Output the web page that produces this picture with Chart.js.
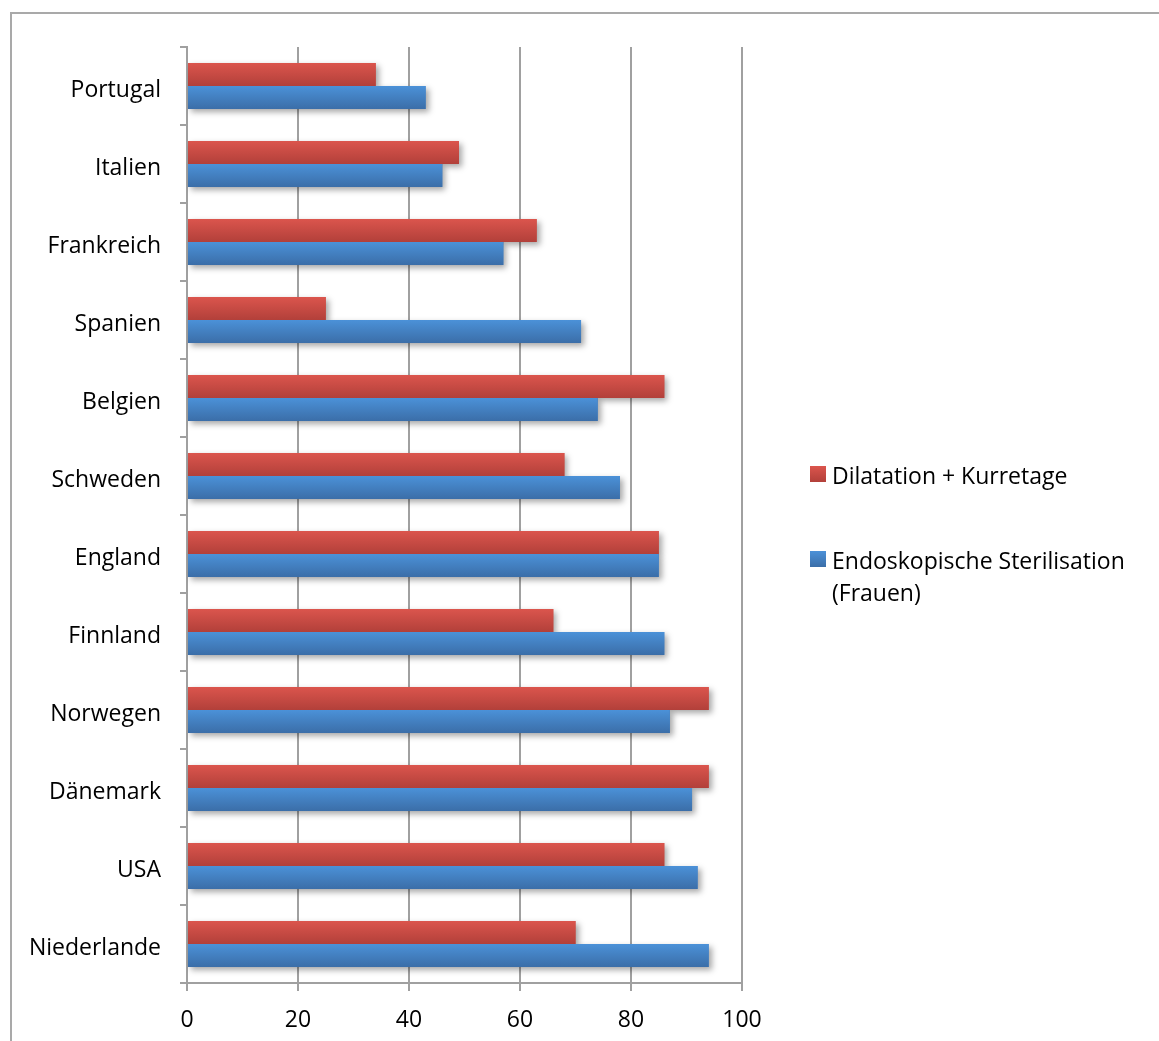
<!DOCTYPE html>
<html>
<head>
<meta charset="utf-8">
<script src="https://cdn.jsdelivr.net/npm/chart.js@4"></script>
<style>
  html, body { margin: 0; padding: 0; background: #fff; }
  body { width: 1159px; height: 1041px; position: relative; overflow: hidden; font-family: "Open Sans", sans-serif; }
  #frame { position: absolute; left: 10px; top: 12px; width: 1200px; height: 1100px; border: 2px solid #a9a9a9; box-sizing: border-box; }
  #wrap { position: absolute; left: 0; top: 0; width: 1159px; height: 1041px; }
  #legend { position: absolute; left: 810px; top: 459px; font-size: 23px; color: #000; line-height: 32px; }
  .item { position: relative; padding-left: 22px; }
  .sw { position: absolute; left: 0; top: 7px; width: 16px; height: 16px; }
</style>
</head>
<body>
<div id="frame"></div>
<div id="wrap"><canvas id="c" width="1159" height="1041"></canvas></div>
<div id="legend"></div>
<script>
const categories = ["Portugal","Italien","Frankreich","Spanien","Belgien","Schweden","England","Finnland","Norwegen","Dänemark","USA","Niederlande"];
const seriesNames = ["Dilatation + Kurretage", "Endoskopische Sterilisation (Frauen)"];
const dilatation = [34, 49, 63, 25, 86, 68, 85, 66, 94, 94, 86, 70];
const sterilisation = [43, 46, 57, 71, 74, 78, 85, 86, 87, 91, 92, 94];
const xTicks = [0, 20, 40, 60, 80, 100];

const FONT = 'Open Sans';
const FSIZE = 23;

const gradColors = [
  ["#db554d", "#b2403a"],
  ["#4b91d8", "#3b6ea8"]
];

const shadowPlugin = {
  id: 'shadowGrad',
  beforeDatasetsDraw(chart) {
    const ctx = chart.ctx;
    ctx.save();
    ctx.shadowColor = 'rgba(0,0,0,0.35)';
    ctx.shadowBlur = 6;
    ctx.shadowOffsetX = 3;
    ctx.shadowOffsetY = 3;
  },
  afterDatasetsDraw(chart) {
    const ctx = chart.ctx;
    ctx.restore();
    chart.data.datasets.forEach((ds, di) => {
      const meta = chart.getDatasetMeta(di);
      meta.data.forEach(bar => {
        const p = bar.getProps(['x', 'y', 'base', 'height'], true);
        const top = p.y - p.height / 2;
        const g = ctx.createLinearGradient(0, top, 0, top + p.height);
        g.addColorStop(0, gradColors[di][0]);
        g.addColorStop(1, gradColors[di][1]);
        ctx.fillStyle = g;
        ctx.fillRect(p.base, top, p.x - p.base, p.height);
      });
    });
  }
};

const legendEl = document.getElementById('legend');
legendEl.innerHTML =
  '<div class="item"><span class="sw" style="background:linear-gradient(#db554d,#b2403a)"></span>' + seriesNames[0] + '</div>' +
  '<div style="height:53px"></div>' +
  '<div class="item" style="width:330px"><span class="sw" style="background:linear-gradient(#4b91d8,#3b6ea8)"></span>' + seriesNames[1] + '</div>';

new Chart(document.getElementById('c'), {
  type: 'bar',
  data: {
    labels: categories,
    datasets: [
      { label: seriesNames[0], data: dilatation, backgroundColor: '#c6493f' },
      { label: seriesNames[1], data: sterilisation, backgroundColor: '#4580c4' }
    ]
  },
  options: {
    indexAxis: 'y',
    responsive: false,
    animation: false,
    maintainAspectRatio: false,
    categoryPercentage: 0.59,
    barPercentage: 1.0,
    layout: { padding: { left: 0, right: 417, top: 47, bottom: 0 } },
    plugins: { legend: { display: false }, tooltip: { enabled: false } },
    scales: {
      x: {
        min: 0, max: 100,
        afterBuildTicks(scale) { scale.ticks = xTicks.map(v => ({ value: v })); },
        afterFit(scale) { scale.height = 58; },
        grid: { color: '#a0a0a0', lineWidth: 2, tickLength: 8, drawOnChartArea: true },
        border: { color: '#a0a0a0', width: 2 },
        ticks: { color: '#000', font: { family: FONT, size: FSIZE }, padding: 16 }
      },
      y: {
        afterFit(scale) { scale.width = 187; },
        grid: { offset: true, drawOnChartArea: false, color: '#a0a0a0', lineWidth: 2, tickLength: 7 },
        border: { color: '#a0a0a0', width: 2 },
        ticks: {
          color: '#000',
          font: { family: FONT, size: FSIZE, lineHeight: 0.4 },
          padding: 19,
          callback(v, i) { return ['', categories[i]]; }
        }
      }
    }
  },
  plugins: [shadowPlugin]
});
</script>
</body>
</html>
